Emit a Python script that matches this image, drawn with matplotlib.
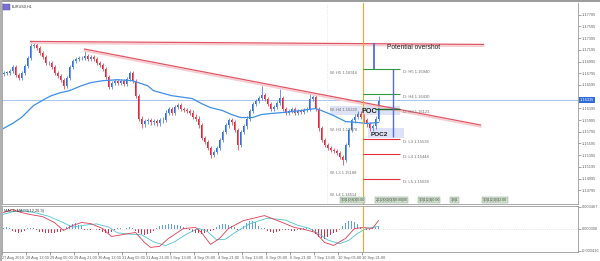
import numpy as np
import matplotlib.pyplot as plt
from matplotlib.patches import Rectangle
from matplotlib.transforms import blended_transform_factory

plt.rcParams['font.family'] = ['Liberation Sans', 'DejaVu Sans']

#%% data (EURUSD H1, drawn as 2-hour candles)
closes = [1.16803, 1.16803, 1.16837, 1.16905, 1.16769, 1.16718, 1.16803, 1.16922, 1.17058, 1.17262,
          1.17279, 1.17228, 1.17143, 1.17075, 1.16973, 1.16973, 1.16905, 1.16803, 1.16752, 1.16684,
          1.16582, 1.16718, 1.16905, 1.17007, 1.17041, 1.17058, 1.17058, 1.17092, 1.17041, 1.17075,
          1.17041, 1.16973, 1.16939, 1.16871, 1.16735, 1.16565, 1.16633, 1.16667, 1.16633, 1.16667,
          1.16616, 1.16701, 1.16803, 1.16667, 1.16412, 1.16021, 1.15919, 1.15970, 1.15987, 1.15953,
          1.15970, 1.15936, 1.15987, 1.16004, 1.16123, 1.16191, 1.16123, 1.16225, 1.16259, 1.16191,
          1.16174, 1.16157, 1.16123, 1.16055, 1.16021, 1.15902, 1.15681, 1.15613, 1.15511, 1.15392,
          1.15443, 1.15511, 1.15647, 1.15783, 1.15902, 1.15987, 1.15953, 1.15817, 1.15562, 1.15783,
          1.15885, 1.16021, 1.16157, 1.16276, 1.16327, 1.16378, 1.16429, 1.16361, 1.16276, 1.16191,
          1.16225, 1.16293, 1.16378, 1.16191, 1.16123, 1.16157, 1.16191, 1.16123, 1.16157, 1.16140,
          1.16174, 1.16191, 1.16361, 1.16395, 1.16191, 1.15851, 1.15647, 1.15562, 1.15511, 1.15477,
          1.15460, 1.15426, 1.15358, 1.15307, 1.15562, 1.15817, 1.15987, 1.16055, 1.16106, 1.16055,
          1.15987, 1.15919, 1.15851, 1.15885, 1.16021, 1.16327]
first_open = 1.16790
wick_pad = 0.00035
spike_hi_idx = [9, 27, 86, 92, 102, 125]
spike_hi_val = [1.17347, 1.17194, 1.16582, 1.16531, 1.16463, 1.16412]
spike_lo_idx = [20, 46, 69, 78, 113]
spike_lo_val = [1.16531, 1.15851, 1.15341, 1.15477, 1.15222]

# moving average
ma_idx = [0, 3, 6, 10, 14, 16, 19, 22, 26, 29, 33, 38, 43, 48, 50, 56, 63, 66, 69, 73,
          76, 79, 83, 86, 89, 93, 96, 99, 104, 106, 110, 114, 118, 121, 125]
ma_val = [1.15851, 1.15936, 1.16038, 1.16242, 1.16361, 1.16412, 1.16463, 1.16497, 1.16582, 1.16633,
          1.16667, 1.16684, 1.16667, 1.16582, 1.16497, 1.16412, 1.16361, 1.16276, 1.16208, 1.16157,
          1.16089, 1.16038, 1.16038, 1.16089, 1.16106, 1.16123, 1.16140, 1.16157, 1.16191, 1.16157,
          1.16072, 1.15970, 1.15953, 1.15936, 1.15953]

# MACD (values in 1e-4)
macd_idx = [0, 3, 6, 9, 13, 17, 20, 23, 26, 29, 33, 36, 40, 44, 47, 49, 52, 55, 60, 64,
            66, 69, 72, 75, 80, 87, 93, 97, 99, 104, 107, 110, 114, 117, 120, 123, 125]
macd_val = [25.7, 30.3, 25.7, 22.6, 19.4, 10.1, -2.3, 5.4, 10.1, 8.6, 0.8, -11.7, -8.6, -5.4, -21.0,
            -28.8, -27.2, -14.8, 0.8, 2.3, -5.4, -24.1, -14.8, 0.8, 13.2, 21.0, 10.1, 2.3, 0.8, -5.4,
            -21.0, -25.7, -14.8, 0.8, 2.3, 0.8, 13.2]
sig_idx = [0, 3, 7, 11, 15, 19, 23, 27, 31, 35, 38, 42, 46, 50, 54, 57, 61, 65, 68, 71,
           74, 77, 82, 88, 94, 98, 102, 105, 108, 112, 115, 118, 121, 125]
sig_val = [23, 27, 28.5, 25, 20, 12, 3, 6, 8, 3, -6, -8, -9, -20, -26, -20, -8, 1, -4, -17,
           -16, -6, 8, 17, 14, 6, 1, -7, -17, -23, -18, -7, 1, 4]
hist_val = [2, 3, 1, -3, -5, -6, -5, -3, 1, 2, 2, -2, -4, -5, -6, -7, -6, -6, -5, -4, -2,
            3, 6, 8, 9, 7, 4, -1, -2, -1, 0, -1, -2, -4, -6, -6, -4, -1, 1, 1, 0, 2, 3, 2,
            -3, -6, -8, -9, -8, -6, -3, 2, 4, 6, 7, 8, 8, 7, 6, 5, 3, 2,
            -2, -4, -6, -7, -8, -7, -5, -3, -1, 3, 6, 8, 8, 7, 5, 3, -2, -1,
            5, 9, 12, 13, 11, 5, 2, 1, -3, -5, -6, -5, -3, -1, -1, -2, -3, -3, -2, -1,
            1, 1, 0, -4, -8, -12, -14, -15, -13, -10, -7, -4, -2, 5, 9, 12, 13, 11, 8,
            3, 1, -1, -1, 1, 3, 4]

time_labels = ["27 Aug 2018", "28 Aug 13:00", "29 Aug 05:00", "29 Aug 21:00", "30 Aug 13:00",
               "31 Aug 05:00", "31 Aug 21:00", "3 Sep 13:00", "4 Sep 05:00", "4 Sep 21:00",
               "5 Sep 13:00", "6 Sep 05:00", "6 Sep 21:00", "7 Sep 13:00", "10 Sep 05:00",
               "10 Sep 21:00"]
price_ticks = [1.17795, 1.17595, 1.17395, 1.17195, 1.16995, 1.16795, 1.16595, 1.16195, 1.15995,
               1.15795, 1.15595, 1.15395, 1.15195, 1.14995, 1.14795]
current_price = 1.16335

# drawn levels
resist_idx = [9, 160]
resist_val = [1.17338, 1.17287]
trend_idx = [27, 159]
trend_val = [1.17208, 1.15910]
d_green = [1.16867, 1.16440]
d_dark = 1.16183
d_red = [1.15671, 1.15414, 1.14987]
d_labels = ["D: H5 1.16940", "D: H4 1.16430", "D: H3 1.16123", "D: L3 1.15536", "D: L4 1.15448", "D: L5 1.15038"]
d_label_val = [1.16817, 1.16390, 1.16133, 1.15621, 1.15364, 1.14937]
w_labels = ["W: H5 1.16916", "W: H4 1.16220", "W: H3 1.15978", "W: L3 1.15188", "W: L4 1.14614"]
w_label_val = [1.16799, 1.16166, 1.15825, 1.15090, 1.14714]
timer_texts = ["1|3|1|0|8|3|0:00", "2|1|2|0|2|0|3|0:00|00", "1|3|1|2|4|0:00", "3|0|1", "1|3|1|2|2|0|2:00"]
timer_idx = [112.3, 124.0, 138.3, 149.0, 159.8]

#%% figure
W, H = 600, 261
fig = plt.figure(figsize=(6, 2.61), dpi=100)
ax = fig.add_axes([2 / W, 1 - 204 / H, 576 / W, 201 / H])
ax2 = fig.add_axes([2 / W, 1 - 252 / H, 576 / W, 46 / H])

fig.patches.append(Rectangle((0, 1 - 2 / H), 1, 2 / H, transform=fig.transFigure,
                             facecolor='#9c9c9c', edgecolor='none'))
fig.patches.append(Rectangle((0, 0), 1.5 / W, 1, transform=fig.transFigure,
                             facecolor='#b0b0b0', edgecolor='none'))
fig.patches.append(Rectangle((3 / W, 1 - 9.5 / H), 7 / W, 5 / H, transform=fig.transFigure,
                             facecolor='#7b6fd6', edgecolor='#4b49a8', lw=0.3))
fig.text(12 / W, 1 - 7 / H, "EURUSD,H1", fontsize=2.6, color='#333333', va='center')

n = len(closes)
idx = np.arange(n)
c = np.array(closes)
o = np.array([first_open] + closes[:-1])
hi = np.maximum(o, c) + wick_pad
lo = np.minimum(o, c) - wick_pad
hi[spike_hi_idx] = np.maximum(hi[spike_hi_idx], spike_hi_val)
lo[spike_lo_idx] = np.minimum(lo[spike_lo_idx], spike_lo_val)
col = np.where(c >= o, '#2f6ee0', '#e0283c')

ax.axhline(current_price, color='#9dbbe8', lw=0.6, zorder=1)
ax.axvline(107.8, color='#e2e6c4', lw=0.6, ls=':', zorder=1)
ax.add_patch(Rectangle((108.8, 1.16080), 23.2, 0.00154, facecolor='#dde2f6', edgecolor='none', zorder=1))
ax.add_patch(Rectangle((121.5, 1.15687), 12.0, 0.00171, facecolor='#dde2f6', edgecolor='none', zorder=1))

ax.vlines(idx, lo, hi, colors=col, lw=0.5, zorder=3)
ax.bar(idx, np.maximum(np.abs(c - o), 0.00005), bottom=np.minimum(o, c), width=0.6,
       color=col, lw=0, zorder=3)
ax.plot(ma_idx, ma_val, color='#3d8fe8', lw=0.9, zorder=4)

# resistance and trend line with a soft shadow
ax.plot(resist_idx, np.array(resist_val) - 0.0003, color='#f6ccd2', lw=1.3, zorder=4)
ax.plot(resist_idx, resist_val, color='#e05563', lw=0.9, zorder=5)
ax.plot(trend_idx, np.array(trend_val) - 0.0003, color='#f6ccd2', lw=1.3, zorder=4)
ax.plot(trend_idx, trend_val, color='#e05563', lw=0.9, zorder=5)

ax.axvline(119.8, color='#f2a623', lw=0.8, zorder=6)
ax.hlines(d_green, 119.8, 132.2, colors='#2e9a3a', lw=0.8, zorder=6)
ax.hlines(d_dark, 123.8, 132.2, colors='#1f6b2a', lw=1.0, zorder=6)
ax.hlines(d_red, 119.8, 132.2, colors='#e0303a', lw=0.8, zorder=6)
ax.vlines(123.5, d_green[0], 1.17311, colors='#5a6ad8', lw=1.3, zorder=6)
ax.vlines(129.8, 1.15705, d_green[0], colors='#5a6ad8', lw=1.0, zorder=6)

ax.text(127.8, 1.17226, "Potential overshot", fontsize=4.8, color='#202020', va='center', zorder=7)
ax.text(119.2, 1.16149, "POC", fontsize=5.2, fontweight='bold', color='#202020', va='center', zorder=7)
ax.text(122.5, 1.15756, "POC2", fontsize=4.6, fontweight='bold', color='#202020', va='center', zorder=7)
for lab, v in zip(d_labels, d_label_val):
    ax.text(133.2, v, lab, fontsize=3, color='#707070', va='center', zorder=7)
for lab, v in zip(w_labels, w_label_val):
    ax.text(108.8, v, lab, fontsize=3, color='#707070', va='center', zorder=7)
for t, xi in zip(timer_texts, timer_idx):
    ax.text(xi, 1.14628, t, fontsize=2.5, color='#404040', va='center', zorder=7,
            bbox=dict(boxstyle='square,pad=0.2', facecolor='#cfe2cc', edgecolor='#8a9a8a', lw=0.3))

ax.set_xlim(-0.5, 191.5)
ax.set_ylim(1.14560, 1.17995)
ax.set_xticks([])
ax.yaxis.tick_right()
ax.set_yticks(price_ticks)
ax.set_yticklabels(['%.5f' % p for p in price_ticks])
ax.tick_params(axis='y', labelsize=2.8, colors='#606060', length=2, width=0.4, pad=1)
trans = blended_transform_factory(ax.transAxes, ax.transData)
ax.text(1.003, current_price, '%.5f' % current_price, transform=trans, fontsize=2.8,
        color='white', va='center', bbox=dict(boxstyle='square,pad=0.2', facecolor='#2f6bd8', edgecolor='none'))
for side, sp in ax.spines.items():
    sp.set_color('#9a9a9a')
    sp.set_linewidth(0.6)
ax.spines['top'].set_visible(False)

#%% MACD pane
ax2.axhline(0, color='#cfcfcf', lw=0.5, ls=':')
hist = np.array(hist_val) * 1e-4
ax2.bar(np.arange(len(hist)), hist, width=0.5, lw=0,
        color=np.where(hist >= 0, '#5b9ee8', '#d8324f'))
ax2.plot(sig_idx, np.array(sig_val) * 1e-4, color='#4cc4d4', lw=0.6)
ax2.plot(macd_idx, np.array(macd_val) * 1e-4, color='#e03a50', lw=0.6)
ax2.axvline(119.8, color='#f2a623', lw=0.8)
ax2.text(0.003, 0.9, "MACD MACD(12,26,9)", transform=ax2.transAxes, fontsize=2.8, color='#333333', va='center')

ax2.set_xlim(-0.5, 191.5)
ax2.set_ylim(-0.0036, 0.0036)
ax2.yaxis.tick_right()
ax2.set_yticks([0.003467, 0.0, -0.003416])
ax2.set_yticklabels(['0.003467', '0.000000', '-0.003416'])
ax2.set_xticks([8 * k - 0.5 for k in range(len(time_labels))])
ax2.set_xticklabels(time_labels)
for lbl in ax2.get_xticklabels():
    lbl.set_ha('left')
ax2.tick_params(labelsize=2.8, colors='#606060', length=2, width=0.4, pad=1)
for side, sp in ax2.spines.items():
    sp.set_color('#9a9a9a')
    sp.set_linewidth(0.6)

fig.savefig('out.png', dpi=100)
